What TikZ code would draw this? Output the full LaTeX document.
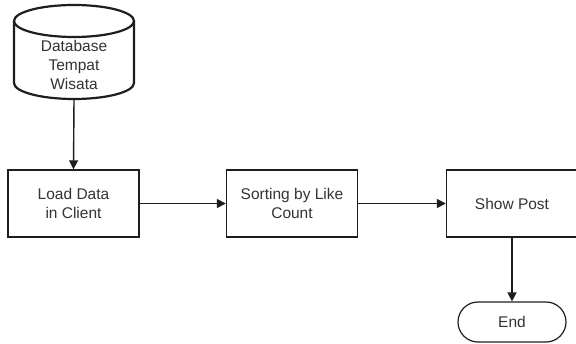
\documentclass[tikz,border=0pt]{standalone}
\usepackage{fontspec}
\setmainfont{Liberation Sans}
\usetikzlibrary{arrows.meta}
\definecolor{inkline}{HTML}{1E1E1E}
\definecolor{inktext}{HTML}{333333}
\tikzset{
  labelfont/.style={font=\fontsize{15.5}{19}\selectfont},
  procbox/.style={draw=inkline, line width=1.4pt, fill=white, minimum width=131pt,
    minimum height=67pt, inner sep=0pt, align=center, text=inktext, labelfont},
  termbox/.style={draw=inkline, line width=1.2pt, fill=white, minimum width=108pt,
    minimum height=40pt, rounded corners=20pt, inner sep=0pt, text=inktext, labelfont},
  labeltext/.style={inner sep=0pt, align=center, text=inktext, labelfont},
  flow/.style={draw=inkline, line width=1.4pt, -{Triangle[length=9pt,width=9pt]}},
}
\begin{document}
\begin{tikzpicture}[x=1pt,y=1pt]
\useasboundingbox (0,0) rectangle (576,343);
\fill[white] (0,0) rectangle (576,343);

% database cylinder
\node[minimum width=120pt, minimum height=94pt, inner sep=0pt] (db) at (74,291) {};
\draw[inkline, line width=2.2pt, fill=white]
  (14,322) -- (14,260) arc[start angle=180, end angle=360, x radius=60, y radius=16]
  -- (134,322);
\draw[inkline, line width=2.2pt, fill=white] (74,322) ellipse[x radius=60, y radius=16];
\node[labeltext] (dbtext) at (74,278) {Database\\Tempat\\Wisata};

% process steps
\node[procbox] (load) at (73.5,139.5) {Load Data\\in Client};
\node[procbox] (sort) at (292,139.5) {Sorting by Like\\Count};
\node[procbox] (show) at (512,139.5) {Show Post};
\node[termbox] (end) at (512,21) {End};

% connectors
\draw[flow] (db.south) -- (load.north);
\draw[flow] (load.east) -- (sort.west);
\draw[flow] (sort.east) -- (show.west);
\draw[flow] (show.south) -- (end.north);
\end{tikzpicture}
\end{document}
